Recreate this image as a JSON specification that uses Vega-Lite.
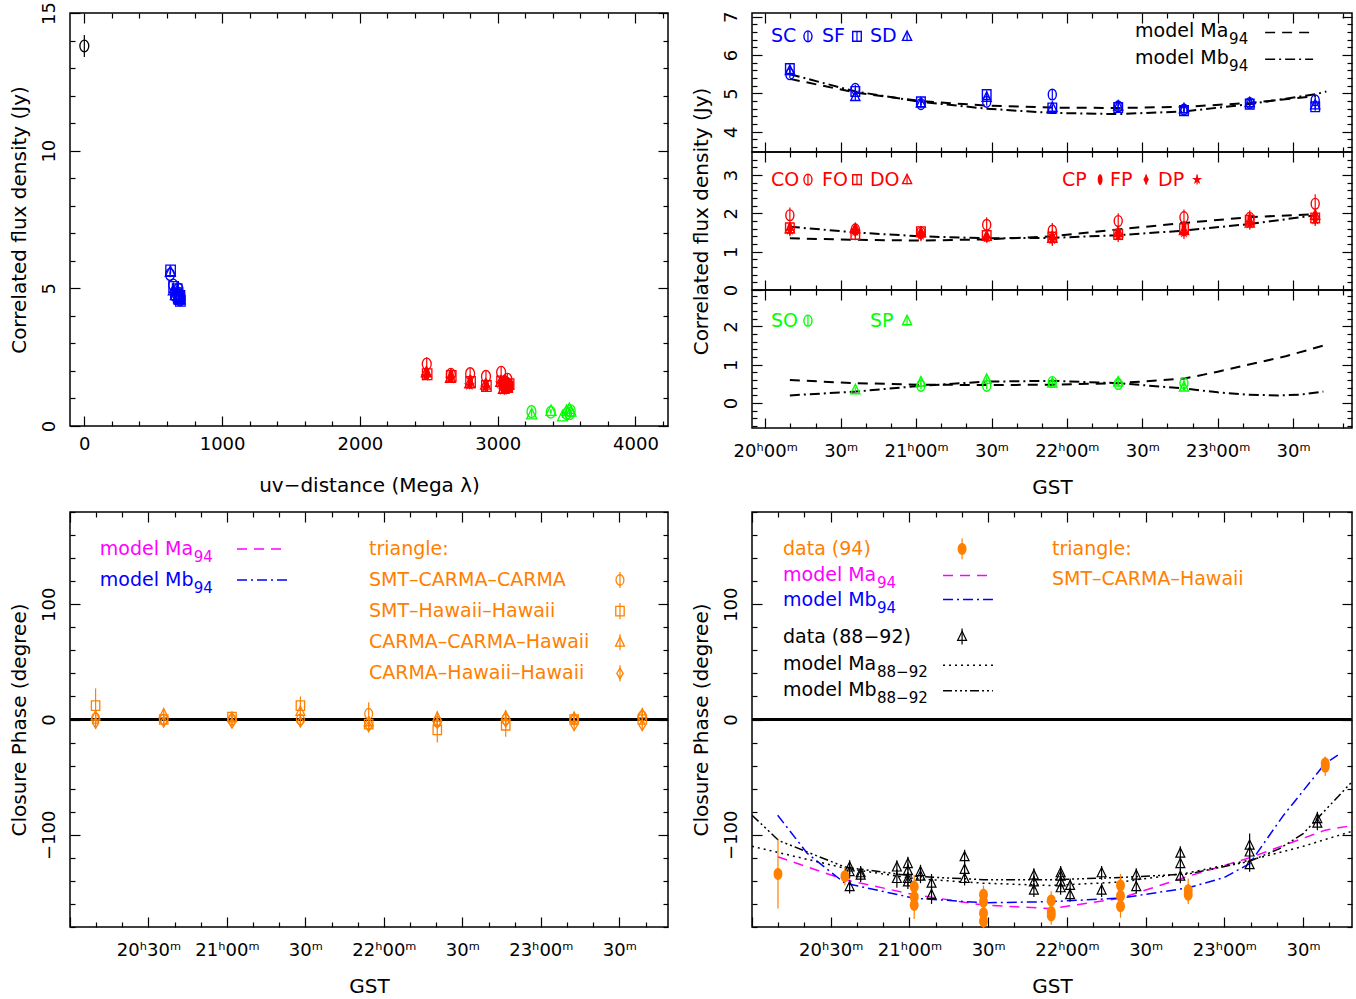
{
"$schema": "https://vega.github.io/schema/vega-lite/v6.json",
"background": "white",
"padding": {"left": 8, "top": 0, "right": 0, "bottom": 0},
"config": {
  "font": "DejaVu Sans",
  "view": {"stroke": "black", "strokeWidth": 1.5},
  "axis": {"domain": false, "grid": false, "tickColor": "black", "tickWidth": 1.2, "labelColor": "black", "titleColor": "black", "titleFontWeight": "normal", "labelFontSize": 18, "titleFontSize": 20, "labelFlush": false, "labelOverlap": false, "labelBound": false, "labelFont": "DejaVu Sans", "titleFont": "DejaVu Sans"},
  "text": {"font": "DejaVu Sans"}
},
"datasets": {
  "flux": [
    {"t":20.163,"u":622,"v":5.5,"e":0.1,"b":"S","k":"o"},
    {"t":20.163,"u":626,"v":5.65,"e":0.1,"b":"S","k":"s"},
    {"t":20.163,"u":624,"v":5.6,"e":0.1,"b":"S","k":"t"},
    {"t":20.597,"u":645,"v":5.12,"e":0.1,"b":"S","k":"o"},
    {"t":20.597,"u":648,"v":5.05,"e":0.1,"b":"S","k":"s"},
    {"t":20.597,"u":646,"v":4.92,"e":0.12,"b":"S","k":"t"},
    {"t":21.032,"u":660,"v":4.72,"e":0.1,"b":"S","k":"o"},
    {"t":21.032,"u":662,"v":4.78,"e":0.08,"b":"S","k":"s"},
    {"t":21.032,"u":661,"v":4.75,"e":0.08,"b":"S","k":"t"},
    {"t":21.468,"u":672,"v":4.78,"e":0.1,"b":"S","k":"o"},
    {"t":21.468,"u":674,"v":4.97,"e":0.1,"b":"S","k":"s"},
    {"t":21.468,"u":673,"v":4.9,"e":0.1,"b":"S","k":"t"},
    {"t":21.903,"u":683,"v":4.97,"e":0.12,"b":"S","k":"o"},
    {"t":21.903,"u":685,"v":4.62,"e":0.08,"b":"S","k":"s"},
    {"t":21.903,"u":684,"v":4.64,"e":0.08,"b":"S","k":"t"},
    {"t":22.34,"u":690,"v":4.66,"e":0.08,"b":"S","k":"o"},
    {"t":22.34,"u":692,"v":4.63,"e":0.08,"b":"S","k":"s"},
    {"t":22.34,"u":691,"v":4.67,"e":0.08,"b":"S","k":"t"},
    {"t":22.776,"u":695,"v":4.58,"e":0.08,"b":"S","k":"o"},
    {"t":22.776,"u":697,"v":4.55,"e":0.08,"b":"S","k":"s"},
    {"t":22.776,"u":696,"v":4.6,"e":0.08,"b":"S","k":"t"},
    {"t":23.212,"u":692,"v":4.75,"e":0.08,"b":"S","k":"o"},
    {"t":23.212,"u":694,"v":4.72,"e":0.1,"b":"S","k":"s"},
    {"t":23.212,"u":693,"v":4.76,"e":0.1,"b":"S","k":"t"},
    {"t":23.646,"u":686,"v":4.82,"e":0.1,"b":"S","k":"o"},
    {"t":23.646,"u":688,"v":4.65,"e":0.1,"b":"S","k":"s"},
    {"t":23.646,"u":687,"v":4.7,"e":0.12,"b":"S","k":"t"},
    {"t":20.163,"u":3025,"v":1.95,"e":0.2,"b":"R","k":"o"},
    {"t":20.163,"u":3028,"v":1.62,"e":0.15,"b":"R","k":"s"},
    {"t":20.163,"u":3022,"v":1.6,"e":0.15,"b":"R","k":"t"},
    {"t":20.163,"u":3026,"v":1.62,"e":0.15,"b":"R","k":"fc"},
    {"t":20.163,"u":3030,"v":1.58,"e":0.15,"b":"R","k":"fd"},
    {"t":20.163,"u":3020,"v":1.55,"e":0.15,"b":"R","k":"fs"},
    {"t":20.597,"u":3060,"v":1.58,"e":0.15,"b":"R","k":"o"},
    {"t":20.597,"u":3063,"v":1.45,"e":0.15,"b":"R","k":"s"},
    {"t":20.597,"u":3057,"v":1.6,"e":0.15,"b":"R","k":"t"},
    {"t":20.597,"u":3061,"v":1.55,"e":0.15,"b":"R","k":"fc"},
    {"t":20.597,"u":3065,"v":1.58,"e":0.15,"b":"R","k":"fd"},
    {"t":20.597,"u":3055,"v":1.52,"e":0.15,"b":"R","k":"fs"},
    {"t":21.032,"u":3080,"v":1.5,"e":0.15,"b":"R","k":"o"},
    {"t":21.032,"u":3083,"v":1.52,"e":0.15,"b":"R","k":"s"},
    {"t":21.032,"u":3077,"v":1.5,"e":0.15,"b":"R","k":"t"},
    {"t":21.032,"u":3081,"v":1.45,"e":0.15,"b":"R","k":"fc"},
    {"t":21.032,"u":3085,"v":1.48,"e":0.15,"b":"R","k":"fd"},
    {"t":21.032,"u":3075,"v":1.42,"e":0.15,"b":"R","k":"fs"},
    {"t":21.468,"u":3070,"v":1.7,"e":0.2,"b":"R","k":"o"},
    {"t":21.468,"u":3073,"v":1.42,"e":0.12,"b":"R","k":"s"},
    {"t":21.468,"u":3067,"v":1.4,"e":0.12,"b":"R","k":"t"},
    {"t":21.468,"u":3071,"v":1.38,"e":0.12,"b":"R","k":"fc"},
    {"t":21.468,"u":3075,"v":1.4,"e":0.12,"b":"R","k":"fd"},
    {"t":21.468,"u":3065,"v":1.35,"e":0.12,"b":"R","k":"fs"},
    {"t":21.903,"u":3045,"v":1.55,"e":0.2,"b":"R","k":"o"},
    {"t":21.903,"u":3048,"v":1.38,"e":0.15,"b":"R","k":"s"},
    {"t":21.903,"u":3042,"v":1.35,"e":0.15,"b":"R","k":"t"},
    {"t":21.903,"u":3046,"v":1.4,"e":0.15,"b":"R","k":"fc"},
    {"t":21.903,"u":3050,"v":1.33,"e":0.15,"b":"R","k":"fd"},
    {"t":21.903,"u":3040,"v":1.3,"e":0.15,"b":"R","k":"fs"},
    {"t":22.34,"u":2915,"v":1.8,"e":0.2,"b":"R","k":"o"},
    {"t":22.34,"u":2918,"v":1.45,"e":0.15,"b":"R","k":"s"},
    {"t":22.34,"u":2912,"v":1.5,"e":0.15,"b":"R","k":"t"},
    {"t":22.34,"u":2916,"v":1.5,"e":0.15,"b":"R","k":"fc"},
    {"t":22.34,"u":2920,"v":1.45,"e":0.15,"b":"R","k":"fd"},
    {"t":22.34,"u":2910,"v":1.4,"e":0.15,"b":"R","k":"fs"},
    {"t":22.776,"u":2800,"v":1.9,"e":0.2,"b":"R","k":"o"},
    {"t":22.776,"u":2803,"v":1.6,"e":0.15,"b":"R","k":"s"},
    {"t":22.776,"u":2797,"v":1.55,"e":0.15,"b":"R","k":"t"},
    {"t":22.776,"u":2801,"v":1.65,"e":0.15,"b":"R","k":"fc"},
    {"t":22.776,"u":2805,"v":1.55,"e":0.15,"b":"R","k":"fd"},
    {"t":22.776,"u":2795,"v":1.48,"e":0.15,"b":"R","k":"fs"},
    {"t":23.212,"u":2660,"v":1.88,"e":0.2,"b":"R","k":"o"},
    {"t":23.212,"u":2663,"v":1.82,"e":0.15,"b":"R","k":"s"},
    {"t":23.212,"u":2657,"v":1.75,"e":0.15,"b":"R","k":"t"},
    {"t":23.212,"u":2661,"v":1.85,"e":0.15,"b":"R","k":"fc"},
    {"t":23.212,"u":2665,"v":1.8,"e":0.15,"b":"R","k":"fd"},
    {"t":23.212,"u":2655,"v":1.72,"e":0.15,"b":"R","k":"fs"},
    {"t":23.646,"u":2485,"v":2.25,"e":0.25,"b":"R","k":"o"},
    {"t":23.646,"u":2488,"v":1.88,"e":0.15,"b":"R","k":"s"},
    {"t":23.646,"u":2482,"v":1.95,"e":0.15,"b":"R","k":"t"},
    {"t":23.646,"u":2486,"v":1.92,"e":0.15,"b":"R","k":"fc"},
    {"t":23.646,"u":2490,"v":1.85,"e":0.15,"b":"R","k":"fd"},
    {"t":23.646,"u":2480,"v":1.82,"e":0.15,"b":"R","k":"fs"},
    {"t":20.597,"u":3470,"v":0.35,"e":0.06,"b":"G","k":"t"},
    {"t":21.032,"u":3500,"v":0.55,"e":0.08,"b":"G","k":"t"},
    {"t":21.032,"u":3502,"v":0.45,"e":0.08,"b":"G","k":"o"},
    {"t":21.468,"u":3520,"v":0.62,"e":0.08,"b":"G","k":"t"},
    {"t":21.468,"u":3522,"v":0.45,"e":0.08,"b":"G","k":"o"},
    {"t":21.903,"u":3530,"v":0.55,"e":0.07,"b":"G","k":"o"},
    {"t":21.903,"u":3532,"v":0.52,"e":0.07,"b":"G","k":"t"},
    {"t":22.34,"u":3385,"v":0.5,"e":0.07,"b":"G","k":"o"},
    {"t":22.34,"u":3387,"v":0.55,"e":0.07,"b":"G","k":"t"},
    {"t":22.776,"u":3245,"v":0.52,"e":0.08,"b":"G","k":"o"},
    {"t":22.776,"u":3247,"v":0.42,"e":0.08,"b":"G","k":"t"},
    {"t":null,"u":0,"v":13.8,"e":0.4,"b":"Z","k":"o"}
  ],
  "fmod": [
    {"t":20.163,"v":5.38,"b":"K","p":"S","m":"Ma"},{"t":20.6,"v":5.02,"b":"K","p":"S","m":"Ma"},{"t":21.03,"v":4.8,"b":"K","p":"S","m":"Ma"},{"t":21.47,"v":4.68,"b":"K","p":"S","m":"Ma"},{"t":21.9,"v":4.63,"b":"K","p":"S","m":"Ma"},{"t":22.34,"v":4.62,"b":"K","p":"S","m":"Ma"},{"t":22.78,"v":4.65,"b":"K","p":"S","m":"Ma"},{"t":23.21,"v":4.75,"b":"K","p":"S","m":"Ma"},{"t":23.65,"v":4.93,"b":"K","p":"S","m":"Ma"},
    {"t":20.163,"v":5.5,"b":"K","p":"S","m":"Mb"},{"t":20.6,"v":5.05,"b":"K","p":"S","m":"Mb"},{"t":21.03,"v":4.78,"b":"K","p":"S","m":"Mb"},{"t":21.47,"v":4.6,"b":"K","p":"S","m":"Mb"},{"t":21.9,"v":4.49,"b":"K","p":"S","m":"Mb"},{"t":22.34,"v":4.46,"b":"K","p":"S","m":"Mb"},{"t":22.78,"v":4.53,"b":"K","p":"S","m":"Mb"},{"t":23.21,"v":4.72,"b":"K","p":"S","m":"Mb"},{"t":23.65,"v":4.98,"b":"K","p":"S","m":"Mb"},{"t":23.72,"v":5.05,"b":"K","p":"S","m":"Mb"},
    {"t":20.163,"v":1.35,"b":"K","p":"R","m":"Ma"},{"t":20.6,"v":1.31,"b":"K","p":"R","m":"Ma"},{"t":21.03,"v":1.29,"b":"K","p":"R","m":"Ma"},{"t":21.47,"v":1.32,"b":"K","p":"R","m":"Ma"},{"t":21.9,"v":1.4,"b":"K","p":"R","m":"Ma"},{"t":22.34,"v":1.58,"b":"K","p":"R","m":"Ma"},{"t":22.78,"v":1.75,"b":"K","p":"R","m":"Ma"},{"t":23.21,"v":1.9,"b":"K","p":"R","m":"Ma"},{"t":23.65,"v":1.98,"b":"K","p":"R","m":"Ma"},
    {"t":20.163,"v":1.65,"b":"K","p":"R","m":"Mb"},{"t":20.6,"v":1.5,"b":"K","p":"R","m":"Mb"},{"t":21.03,"v":1.4,"b":"K","p":"R","m":"Mb"},{"t":21.47,"v":1.35,"b":"K","p":"R","m":"Mb"},{"t":21.9,"v":1.36,"b":"K","p":"R","m":"Mb"},{"t":22.34,"v":1.43,"b":"K","p":"R","m":"Mb"},{"t":22.78,"v":1.55,"b":"K","p":"R","m":"Mb"},{"t":23.21,"v":1.72,"b":"K","p":"R","m":"Mb"},{"t":23.65,"v":1.95,"b":"K","p":"R","m":"Mb"},
    {"t":20.163,"v":0.6,"b":"K","p":"G","m":"Ma"},{"t":20.6,"v":0.52,"b":"K","p":"G","m":"Ma"},{"t":21.03,"v":0.48,"b":"K","p":"G","m":"Ma"},{"t":21.47,"v":0.47,"b":"K","p":"G","m":"Ma"},{"t":21.9,"v":0.48,"b":"K","p":"G","m":"Ma"},{"t":22.34,"v":0.52,"b":"K","p":"G","m":"Ma"},{"t":22.78,"v":0.64,"b":"K","p":"G","m":"Ma"},{"t":23.0,"v":0.82,"b":"K","p":"G","m":"Ma"},{"t":23.2,"v":1.0,"b":"K","p":"G","m":"Ma"},{"t":23.45,"v":1.22,"b":"K","p":"G","m":"Ma"},{"t":23.7,"v":1.5,"b":"K","p":"G","m":"Ma"},
    {"t":20.163,"v":0.2,"b":"K","p":"G","m":"Mb"},{"t":20.6,"v":0.3,"b":"K","p":"G","m":"Mb"},{"t":21.03,"v":0.45,"b":"K","p":"G","m":"Mb"},{"t":21.47,"v":0.56,"b":"K","p":"G","m":"Mb"},{"t":21.9,"v":0.58,"b":"K","p":"G","m":"Mb"},{"t":22.34,"v":0.52,"b":"K","p":"G","m":"Mb"},{"t":22.78,"v":0.38,"b":"K","p":"G","m":"Mb"},{"t":23.0,"v":0.28,"b":"K","p":"G","m":"Mb"},{"t":23.2,"v":0.22,"b":"K","p":"G","m":"Mb"},{"t":23.4,"v":0.2,"b":"K","p":"G","m":"Mb"},{"t":23.55,"v":0.22,"b":"K","p":"G","m":"Mb"},{"t":23.7,"v":0.3,"b":"K","p":"G","m":"Mb"}
  ],
  "cpl": [
    {"t":20.163,"v":12,"e":15,"b":"O","k":"s"},{"t":20.163,"v":1,"e":5,"b":"O","k":"o"},{"t":20.163,"v":3,"e":5,"b":"O","k":"t"},{"t":20.163,"v":-3,"e":5,"b":"O","k":"d"},
    {"t":20.597,"v":0,"e":4,"b":"O","k":"o"},{"t":20.597,"v":0,"e":4,"b":"O","k":"s"},{"t":20.597,"v":5,"e":4,"b":"O","k":"t"},{"t":20.597,"v":-2,"e":4,"b":"O","k":"d"},
    {"t":21.032,"v":0,"e":4,"b":"O","k":"o"},{"t":21.032,"v":2,"e":4,"b":"O","k":"s"},{"t":21.032,"v":2,"e":4,"b":"O","k":"t"},{"t":21.032,"v":-3,"e":4,"b":"O","k":"d"},
    {"t":21.468,"v":0,"e":5,"b":"O","k":"o"},{"t":21.468,"v":12,"e":8,"b":"O","k":"s"},{"t":21.468,"v":7,"e":6,"b":"O","k":"t"},{"t":21.468,"v":-2,"e":4,"b":"O","k":"d"},
    {"t":21.903,"v":5,"e":10,"b":"O","k":"o"},{"t":21.903,"v":-4,"e":5,"b":"O","k":"s"},{"t":21.903,"v":-2,"e":5,"b":"O","k":"t"},{"t":21.903,"v":-6,"e":4,"b":"O","k":"d"},
    {"t":22.34,"v":-2,"e":5,"b":"O","k":"o"},{"t":22.34,"v":-9,"e":11,"b":"O","k":"s"},{"t":22.34,"v":2,"e":5,"b":"O","k":"t"},{"t":22.34,"v":-3,"e":4,"b":"O","k":"d"},
    {"t":22.776,"v":0,"e":4,"b":"O","k":"o"},{"t":22.776,"v":-5,"e":10,"b":"O","k":"s"},{"t":22.776,"v":3,"e":4,"b":"O","k":"t"},{"t":22.776,"v":-2,"e":4,"b":"O","k":"d"},
    {"t":23.212,"v":0,"e":4,"b":"O","k":"o"},{"t":23.212,"v":0,"e":4,"b":"O","k":"s"},{"t":23.212,"v":2,"e":4,"b":"O","k":"t"},{"t":23.212,"v":-5,"e":5,"b":"O","k":"d"},
    {"t":23.646,"v":3,"e":4,"b":"O","k":"o"},{"t":23.646,"v":0,"e":4,"b":"O","k":"s"},{"t":23.646,"v":5,"e":4,"b":"O","k":"t"},{"t":23.646,"v":-5,"e":5,"b":"O","k":"d"}
  ],
  "cpr": [
    {"t":20.165,"v":-134,"e":30,"b":"O","k":"fo"},
    {"t":20.59,"v":-136,"e":8,"b":"O","k":"fo"},
    {"t":21.03,"v":-145,"e":10,"b":"O","k":"fo"},{"t":21.03,"v":-154,"e":10,"b":"O","k":"fo"},{"t":21.03,"v":-161,"e":12,"b":"O","k":"fo"},
    {"t":21.47,"v":-152,"e":8,"b":"O","k":"fo"},{"t":21.47,"v":-158,"e":8,"b":"O","k":"fo"},{"t":21.47,"v":-168,"e":8,"b":"O","k":"fo"},{"t":21.47,"v":-175,"e":6,"b":"O","k":"fo"},
    {"t":21.9,"v":-157,"e":8,"b":"O","k":"fo"},{"t":21.9,"v":-167,"e":8,"b":"O","k":"fo"},{"t":21.9,"v":-170,"e":8,"b":"O","k":"fo"},
    {"t":22.34,"v":-144,"e":10,"b":"O","k":"fo"},{"t":22.34,"v":-153,"e":10,"b":"O","k":"fo"},{"t":22.34,"v":-162,"e":10,"b":"O","k":"fo"},
    {"t":22.77,"v":-148,"e":10,"b":"O","k":"fo"},{"t":22.77,"v":-152,"e":8,"b":"O","k":"fo"},
    {"t":23.64,"v":-41,"e":8,"b":"O","k":"fo"},{"t":23.64,"v":-38,"e":6,"b":"O","k":"fo"},
    {"t":20.62,"v":-128,"e":6,"b":"K","k":"t"},{"t":20.62,"v":-132,"e":6,"b":"K","k":"t"},{"t":20.62,"v":-145,"e":6,"b":"K","k":"t"},
    {"t":20.69,"v":-133,"e":6,"b":"K","k":"t"},{"t":20.69,"v":-135,"e":6,"b":"K","k":"t"},
    {"t":20.92,"v":-128,"e":6,"b":"K","k":"t"},{"t":20.92,"v":-138,"e":8,"b":"K","k":"t"},
    {"t":20.99,"v":-125,"e":6,"b":"K","k":"t"},{"t":20.99,"v":-131,"e":6,"b":"K","k":"t"},{"t":20.99,"v":-138,"e":6,"b":"K","k":"t"},{"t":20.99,"v":-141,"e":6,"b":"K","k":"t"},
    {"t":21.07,"v":-132,"e":6,"b":"K","k":"t"},{"t":21.07,"v":-136,"e":6,"b":"K","k":"t"},
    {"t":21.14,"v":-142,"e":8,"b":"K","k":"t"},{"t":21.14,"v":-152,"e":8,"b":"K","k":"t"},
    {"t":21.35,"v":-119,"e":6,"b":"K","k":"t"},{"t":21.35,"v":-130,"e":6,"b":"K","k":"t"},{"t":21.35,"v":-138,"e":6,"b":"K","k":"t"},
    {"t":21.79,"v":-135,"e":6,"b":"K","k":"t"},{"t":21.79,"v":-141,"e":6,"b":"K","k":"t"},{"t":21.79,"v":-148,"e":6,"b":"K","k":"t"},
    {"t":21.96,"v":-133,"e":6,"b":"K","k":"t"},{"t":21.96,"v":-136,"e":6,"b":"K","k":"t"},{"t":21.96,"v":-141,"e":6,"b":"K","k":"t"},{"t":21.96,"v":-146,"e":6,"b":"K","k":"t"},
    {"t":22.02,"v":-144,"e":6,"b":"K","k":"t"},{"t":22.02,"v":-152,"e":6,"b":"K","k":"t"},
    {"t":22.22,"v":-133,"e":6,"b":"K","k":"t"},{"t":22.22,"v":-148,"e":6,"b":"K","k":"t"},
    {"t":22.44,"v":-135,"e":6,"b":"K","k":"t"},{"t":22.44,"v":-145,"e":6,"b":"K","k":"t"},
    {"t":22.72,"v":-116,"e":6,"b":"K","k":"t"},{"t":22.72,"v":-125,"e":6,"b":"K","k":"t"},{"t":22.72,"v":-136,"e":6,"b":"K","k":"t"},
    {"t":23.16,"v":-109,"e":10,"b":"K","k":"t"},{"t":23.16,"v":-115,"e":6,"b":"K","k":"t"},{"t":23.16,"v":-126,"e":6,"b":"K","k":"t"},
    {"t":23.59,"v":-86,"e":6,"b":"K","k":"t"},{"t":23.59,"v":-90,"e":6,"b":"K","k":"t"}
  ],
  "cpm": [
    {"p":"BL","t":20.163,"v":0,"b":"Ma","m":"Ma"},{"p":"BL","t":23.646,"v":0,"b":"Ma","m":"Ma"},
    {"p":"BL","t":20.163,"v":0,"b":"Mb","m":"Mb"},{"p":"BL","t":23.646,"v":0,"b":"Mb","m":"Mb"},
    {"p":"BR","t":20.163,"v":-119,"b":"Ma","m":"Ma"},{"p":"BR","t":20.59,"v":-139,"b":"Ma","m":"Ma"},{"p":"BR","t":21.03,"v":-152,"b":"Ma","m":"Ma"},{"p":"BR","t":21.47,"v":-161,"b":"Ma","m":"Ma"},{"p":"BR","t":21.9,"v":-164,"b":"Ma","m":"Ma"},{"p":"BR","t":22.34,"v":-155,"b":"Ma","m":"Ma"},{"p":"BR","t":22.77,"v":-136,"b":"Ma","m":"Ma"},{"p":"BR","t":23.16,"v":-120,"b":"Ma","m":"Ma"},{"p":"BR","t":23.4,"v":-108,"b":"Ma","m":"Ma"},{"p":"BR","t":23.64,"v":-96,"b":"Ma","m":"Ma"},{"p":"BR","t":23.81,"v":-92,"b":"Ma","m":"Ma"},
    {"p":"BR","t":20.163,"v":-83,"b":"Mb","m":"Mb"},{"p":"BR","t":20.35,"v":-116,"b":"Mb","m":"Mb"},{"p":"BR","t":20.59,"v":-142,"b":"Mb","m":"Mb"},{"p":"BR","t":21.03,"v":-155,"b":"Mb","m":"Mb"},{"p":"BR","t":21.47,"v":-159,"b":"Mb","m":"Mb"},{"p":"BR","t":21.9,"v":-158,"b":"Mb","m":"Mb"},{"p":"BR","t":22.34,"v":-155,"b":"Mb","m":"Mb"},{"p":"BR","t":22.77,"v":-146,"b":"Mb","m":"Mb"},{"p":"BR","t":23.0,"v":-137,"b":"Mb","m":"Mb"},{"p":"BR","t":23.16,"v":-125,"b":"Mb","m":"Mb"},{"p":"BR","t":23.37,"v":-84,"b":"Mb","m":"Mb"},{"p":"BR","t":23.64,"v":-38,"b":"Mb","m":"Mb"},{"p":"BR","t":23.72,"v":-31,"b":"Mb","m":"Mb"},
    {"p":"BR","t":20.0,"v":-110,"b":"K","m":"Ma88"},{"p":"BR","t":20.59,"v":-129,"b":"K","m":"Ma88"},{"p":"BR","t":21.03,"v":-138,"b":"K","m":"Ma88"},{"p":"BR","t":21.47,"v":-142,"b":"K","m":"Ma88"},{"p":"BR","t":21.9,"v":-144,"b":"K","m":"Ma88"},{"p":"BR","t":22.34,"v":-141,"b":"K","m":"Ma88"},{"p":"BR","t":22.77,"v":-133,"b":"K","m":"Ma88"},{"p":"BR","t":23.16,"v":-122,"b":"K","m":"Ma88"},{"p":"BR","t":23.5,"v":-110,"b":"K","m":"Ma88"},{"p":"BR","t":23.81,"v":-97,"b":"K","m":"Ma88"},
    {"p":"BR","t":20.0,"v":-83,"b":"K","m":"Mb88"},{"p":"BR","t":20.17,"v":-105,"b":"K","m":"Mb88"},{"p":"BR","t":20.59,"v":-128,"b":"K","m":"Mb88"},{"p":"BR","t":21.03,"v":-136,"b":"K","m":"Mb88"},{"p":"BR","t":21.47,"v":-139,"b":"K","m":"Mb88"},{"p":"BR","t":21.9,"v":-139,"b":"K","m":"Mb88"},{"p":"BR","t":22.34,"v":-137,"b":"K","m":"Mb88"},{"p":"BR","t":22.77,"v":-134,"b":"K","m":"Mb88"},{"p":"BR","t":23.16,"v":-123,"b":"K","m":"Mb88"},{"p":"BR","t":23.35,"v":-112,"b":"K","m":"Mb88"},{"p":"BR","t":23.5,"v":-99,"b":"K","m":"Mb88"},{"p":"BR","t":23.81,"v":-54,"b":"K","m":"Mb88"}
  ],
  "ltx": [
    {"p":"S","t":20.038,"v":6.49,"txt":"SC","b":"S"},
    {"p":"S","t":20.376,"v":6.49,"txt":"SF","b":"S"},
    {"p":"S","t":20.694,"v":6.49,"txt":"SD","b":"S"},
    {"p":"S","t":22.452,"v":6.63,"txt":"model Ma","b":"K"},
    {"p":"S","t":22.452,"v":5.93,"txt":"model Mb","b":"K"},
    {"p":"R","t":20.038,"v":2.88,"txt":"CO","b":"R"},
    {"p":"R","t":20.376,"v":2.88,"txt":"FO","b":"R"},
    {"p":"R","t":20.694,"v":2.88,"txt":"DO","b":"R"},
    {"p":"R","t":21.968,"v":2.88,"txt":"CP","b":"R"},
    {"p":"R","t":22.286,"v":2.88,"txt":"FP","b":"R"},
    {"p":"R","t":22.604,"v":2.88,"txt":"DP","b":"R"},
    {"p":"G","t":20.038,"v":2.15,"txt":"SO","b":"G"},
    {"p":"G","t":20.694,"v":2.15,"txt":"SP","b":"G"},
    {"p":"BL","t":20.19,"v":148,"txt":"model Ma","b":"Ma"},
    {"p":"BL","t":20.19,"v":121,"txt":"model Mb","b":"Mb"},
    {"p":"BL","t":21.905,"v":148,"txt":"triangle:","b":"O"},
    {"p":"BL","t":21.905,"v":121,"txt":"SMT–CARMA–CARMA","b":"O"},
    {"p":"BL","t":21.905,"v":94,"txt":"SMT–Hawaii–Hawaii","b":"O"},
    {"p":"BL","t":21.905,"v":67,"txt":"CARMA–CARMA–Hawaii","b":"O"},
    {"p":"BL","t":21.905,"v":40,"txt":"CARMA–Hawaii–Hawaii","b":"O"},
    {"p":"BR","t":20.197,"v":148,"txt":"data (94)","b":"O"},
    {"p":"BR","t":20.197,"v":125,"txt":"model Ma","b":"Ma"},
    {"p":"BR","t":20.197,"v":104,"txt":"model Mb","b":"Mb"},
    {"p":"BR","t":20.197,"v":72,"txt":"data (88−92)","b":"K"},
    {"p":"BR","t":20.197,"v":48,"txt":"model Ma","b":"K"},
    {"p":"BR","t":20.197,"v":26,"txt":"model Mb","b":"K"},
    {"p":"BR","t":21.905,"v":148,"txt":"triangle:","b":"O"},
    {"p":"BR","t":21.905,"v":122,"txt":"SMT–CARMA–Hawaii","b":"O"}
  ],
  "lsub": [
    {"p":"S","t":22.452,"v":6.63,"txt":"94","b":"K"},
    {"p":"S","t":22.452,"v":5.93,"txt":"94","b":"K"},
    {"p":"BL","t":20.19,"v":148,"txt":"94","b":"Ma"},
    {"p":"BL","t":20.19,"v":121,"txt":"94","b":"Mb"},
    {"p":"BR","t":20.197,"v":125,"txt":"94","b":"Ma"},
    {"p":"BR","t":20.197,"v":104,"txt":"94","b":"Mb"},
    {"p":"BR","t":20.197,"v":48,"txt":"88−92","b":"K"},
    {"p":"BR","t":20.197,"v":26,"txt":"88−92","b":"K"}
  ],
  "lmk": [
    {"p":"S","t":20.283,"v":6.49,"e":0.13,"b":"S","k":"o"},
    {"p":"S","t":20.608,"v":6.49,"e":0.13,"b":"S","k":"s"},
    {"p":"S","t":20.94,"v":6.49,"e":0.13,"b":"S","k":"t"},
    {"p":"R","t":20.283,"v":2.88,"e":0.13,"b":"R","k":"o"},
    {"p":"R","t":20.608,"v":2.88,"e":0.13,"b":"R","k":"s"},
    {"p":"R","t":20.94,"v":2.88,"e":0.13,"b":"R","k":"t"},
    {"p":"R","t":22.22,"v":2.88,"e":0.13,"b":"R","k":"fc"},
    {"p":"R","t":22.525,"v":2.88,"e":0.13,"b":"R","k":"fd"},
    {"p":"R","t":22.863,"v":2.88,"e":0.13,"b":"R","k":"fs"},
    {"p":"G","t":20.283,"v":2.15,"e":0.13,"b":"G","k":"o"},
    {"p":"G","t":20.94,"v":2.15,"e":0.13,"b":"G","k":"t"},
    {"p":"BL","t":23.504,"v":121,"e":7,"b":"O","k":"o"},
    {"p":"BL","t":23.504,"v":94,"e":7,"b":"O","k":"s"},
    {"p":"BL","t":23.504,"v":67,"e":7,"b":"O","k":"t"},
    {"p":"BL","t":23.504,"v":40,"e":7,"b":"O","k":"d"},
    {"p":"BR","t":21.334,"v":148,"e":9,"b":"O","k":"fo"},
    {"p":"BR","t":21.334,"v":72,"e":7,"b":"K","k":"t"}
  ],
  "lln": [
    {"p":"S","t":23.314,"v":6.59,"b":"K","m":"Ma"},{"p":"S","t":23.632,"v":6.59,"b":"K","m":"Ma"},
    {"p":"S","t":23.314,"v":5.89,"b":"K","m":"Mb"},{"p":"S","t":23.632,"v":5.89,"b":"K","m":"Mb"},
    {"p":"BL","t":21.064,"v":148,"b":"Ma","m":"Ma"},{"p":"BL","t":21.383,"v":148,"b":"Ma","m":"Ma"},
    {"p":"BL","t":21.064,"v":121,"b":"Mb","m":"Mb"},{"p":"BL","t":21.383,"v":121,"b":"Mb","m":"Mb"},
    {"p":"BR","t":21.213,"v":125,"b":"Ma","m":"Ma"},{"p":"BR","t":21.53,"v":125,"b":"Ma","m":"Ma"},
    {"p":"BR","t":21.213,"v":104,"b":"Mb","m":"Mb"},{"p":"BR","t":21.53,"v":104,"b":"Mb","m":"Mb"},
    {"p":"BR","t":21.213,"v":47,"b":"K","m":"Ma88"},{"p":"BR","t":21.53,"v":47,"b":"K","m":"Ma88"},
    {"p":"BR","t":21.213,"v":25,"b":"K","m":"Mb88"},{"p":"BR","t":21.53,"v":25,"b":"K","m":"Mb88"}
  ]
},
"vconcat": [
 {"hconcat": [
  {
   "width": 598, "height": 413,
   "layer": [
    {
     "encoding": {
      "x": {"field":"u","type":"quantitative","scale":{"domain":[-104,4236],"nice":false,"zero":false},
            "axis":{"orient":"bottom","title":"uv−distance (Mega λ)","values":[0,200,400,600,800,1000,1200,1400,1600,1800,2000,2200,2400,2600,2800,3000,3200,3400,3600,3800,4000,4200],"format":"d","tickSize":{"condition":{"test":"datum.value % 1000 === 0","value":-10},"value":-5},"labelExpr":"datum.value % 1000 === 0 ? datum.label : ''","labelPadding":19.8,"minExtent":32,"maxExtent":32,"titlePadding":17}},
      "y": {"field":"v","type":"quantitative","scale":{"domain":[0,15],"nice":false,"zero":false},
            "axis":{"orient":"left","title":"Correlated flux density (Jy)","values":[0,1,2,3,4,5,6,7,8,9,10,11,12,13,14,15],"format":"d","tickSize":{"condition":{"test":"datum.value % 5 === 0","value":-10},"value":-5},"labelExpr":"datum.value % 5 === 0 ? datum.label : ''","labelAngle":-90,"labelAlign":"center","labelBaseline":"bottom","labelPadding":21.5,"minExtent":28,"maxExtent":28,"titlePadding":13}},
      "color": {"field":"b","type":"nominal","legend":null,"scale":{"domain":["Z","S","R","G","K","O","Ma","Mb"],"range":["black","blue","red","#00ff00","black","#ff8000","magenta","blue"]}}
     },
     "layer": [
      {"data":{"name":"flux"},"mark":{"type":"errorbar","thickness":1.2},"encoding":{"yError":{"field":"e"}}},
      {"data":{"name":"flux"},"transform":[{"filter":"indexof(['fc','fd','fs'], datum.k) < 0"}],"mark":{"type":"point","filled":false,"size":140,"strokeWidth":1.3,"opacity":1},"encoding":{"shape":{"field":"k","type":"nominal","legend":null,"scale":{"domain":["o","s","t","d","fc","fd","fs","fo"],"range":["M0,-1A0.75,1,0,1,1,0,1A0.75,1,0,1,1,0,-1Z","M-0.8,-0.9H0.8V0.9H-0.8Z","M0,-1L0.85,0.75L-0.85,0.75Z","M0,-1L0.6,0L0,1L-0.6,0Z","M0,-1A0.45,1,0,1,1,0,1A0.45,1,0,1,1,0,-1Z","M0,-1L0.5,0L0,1L-0.5,0Z","M0,-1L0.22,-0.3L0.95,-0.3L0.36,0.12L0.59,0.81L0,0.38L-0.59,0.81L-0.36,0.12L-0.95,-0.3L-0.22,-0.3Z","M0,-1A0.75,1,0,1,1,0,1A0.75,1,0,1,1,0,-1Z"]}}}},
      {"data":{"name":"flux"},"transform":[{"filter":"indexof(['fc','fd','fs'], datum.k) >= 0"}],"mark":{"type":"point","filled":true,"size":140,"opacity":1},"encoding":{"shape":{"field":"k","type":"nominal","legend":null,"scale":{"domain":["o","s","t","d","fc","fd","fs","fo"],"range":["M0,-1A0.75,1,0,1,1,0,1A0.75,1,0,1,1,0,-1Z","M-0.8,-0.9H0.8V0.9H-0.8Z","M0,-1L0.85,0.75L-0.85,0.75Z","M0,-1L0.6,0L0,1L-0.6,0Z","M0,-1A0.45,1,0,1,1,0,1A0.45,1,0,1,1,0,-1Z","M0,-1L0.5,0L0,1L-0.5,0Z","M0,-1L0.22,-0.3L0.95,-0.3L0.36,0.12L0.59,0.81L0,0.38L-0.59,0.81L-0.36,0.12L-0.95,-0.3L-0.22,-0.3Z","M0,-1A0.75,1,0,1,1,0,1A0.75,1,0,1,1,0,-1Z"]}}}}
     ]
    },
    {"data":{"name":"flux"},"mark":{"type":"point","opacity":0},
     "encoding":{
      "x":{"field":"u","type":"quantitative","scale":{"domain":[-104,4236],"nice":false,"zero":false},"axis":{"orient":"top","labels":false,"title":null,"values":[0,200,400,600,800,1000,1200,1400,1600,1800,2000,2200,2400,2600,2800,3000,3200,3400,3600,3800,4000,4200],"tickSize":{"condition":{"test":"datum.value % 1000 === 0","value":-10},"value":-5},"minExtent":0,"maxExtent":0}},
      "y":{"field":"v","type":"quantitative","scale":{"domain":[0,15],"nice":false,"zero":false},"axis":{"orient":"right","labels":false,"title":null,"values":[0,1,2,3,4,5,6,7,8,9,10,11,12,13,14,15],"tickSize":{"condition":{"test":"datum.value % 5 === 0","value":-10},"value":-5},"minExtent":0,"maxExtent":0}}
     }}
   ],
   "resolve":{"axis":{"x":"independent","y":"independent"}}
  },
  {"vconcat": [
   {
    "width": 600, "height": 139,
    "layer": [
     {
      "encoding": {
       "x": {"field":"t","type":"quantitative","scale":{"domain":[19.912,23.89],"nice":false,"zero":false},
             "axis":{"orient":"bottom","labels":false,"title":null,"values":[20,20.1667,20.3333,20.5,20.6667,20.8333,21,21.1667,21.3333,21.5,21.6667,21.8333,22,22.1667,22.3333,22.5,22.6667,22.8333,23,23.1667,23.3333,23.5,23.6667,23.8333],"tickSize":{"condition":{"test":"abs(datum.value*2-round(datum.value*2))<0.01","value":-10},"value":-5},"minExtent":0,"maxExtent":0}},
       "y": {"field":"v","type":"quantitative","scale":{"domain":[3.47,7.1],"nice":false,"zero":false},
             "axis":{"orient":"left","title":null,"values":[3.6,3.8,4,4.2,4.4,4.6,4.8,5,5.2,5.4,5.6,5.8,6,6.2,6.4,6.6,6.8,7],"tickSize":{"condition":{"test":"abs(datum.value-round(datum.value))<0.01","value":-10},"value":-5},"labelExpr":"abs(datum.value-round(datum.value))<0.01 ? format(datum.value,'d') : ''","labelAngle":-90,"labelAlign":"center","labelBaseline":"bottom","labelPadding":21.5,"minExtent":28,"maxExtent":28,"titlePadding":13}},
       "color": {"field":"b","type":"nominal","legend":null,"scale":{"domain":["Z","S","R","G","K","O","Ma","Mb"],"range":["black","blue","red","#00ff00","black","#ff8000","magenta","blue"]}}
      },
      "layer": [
       {"data":{"name":"fmod"},"transform":[{"filter":"datum.p === 'S'"}],"mark":{"type":"line","strokeWidth":2,"clip":true},"encoding":{"strokeDash":{"field":"m","type":"nominal","legend":null,"scale":{"domain":["Ma","Mb","Ma88","Mb88"],"range":[[10,7],[10,4,2,4],[2,4],[9,3,2,3,2,3,2,3]]}}}},
       {"data":{"name":"lln"},"transform":[{"filter":"datum.p === 'S'"}],"mark":{"type":"line","strokeWidth":1.5},"encoding":{"strokeDash":{"field":"m","type":"nominal","legend":null,"scale":{"domain":["Ma","Mb","Ma88","Mb88"],"range":[[10,7],[10,4,2,4],[2,4],[9,3,2,3,2,3,2,3]]}}}},
       {"data":{"name":"flux"},"transform":[{"filter":"datum.b === 'S'"}],"mark":{"type":"errorbar","thickness":1.2},"encoding":{"yError":{"field":"e"}}},
       {"data":{"name":"lmk"},"transform":[{"filter":"datum.p === 'S'"}],"mark":{"type":"errorbar","thickness":1.2},"encoding":{"yError":{"field":"e"}}},
       {"data":{"name":"flux"},"transform":[{"filter":"datum.b === 'S'"}],"mark":{"type":"point","filled":false,"size":115,"strokeWidth":1.4,"opacity":1},"encoding":{"shape":{"field":"k","type":"nominal","legend":null,"scale":{"domain":["o","s","t","d","fc","fd","fs","fo"],"range":["M0,-1A0.75,1,0,1,1,0,1A0.75,1,0,1,1,0,-1Z","M-0.8,-0.9H0.8V0.9H-0.8Z","M0,-1L0.85,0.75L-0.85,0.75Z","M0,-1L0.6,0L0,1L-0.6,0Z","M0,-1A0.45,1,0,1,1,0,1A0.45,1,0,1,1,0,-1Z","M0,-1L0.5,0L0,1L-0.5,0Z","M0,-1L0.22,-0.3L0.95,-0.3L0.36,0.12L0.59,0.81L0,0.38L-0.59,0.81L-0.36,0.12L-0.95,-0.3L-0.22,-0.3Z","M0,-1A0.75,1,0,1,1,0,1A0.75,1,0,1,1,0,-1Z"]}}}},
       {"data":{"name":"lmk"},"transform":[{"filter":"datum.p === 'S'"}],"mark":{"type":"point","filled":false,"size":115,"strokeWidth":1.4,"opacity":1},"encoding":{"shape":{"field":"k","type":"nominal","legend":null,"scale":{"domain":["o","s","t","d","fc","fd","fs","fo"],"range":["M0,-1A0.75,1,0,1,1,0,1A0.75,1,0,1,1,0,-1Z","M-0.8,-0.9H0.8V0.9H-0.8Z","M0,-1L0.85,0.75L-0.85,0.75Z","M0,-1L0.6,0L0,1L-0.6,0Z","M0,-1A0.45,1,0,1,1,0,1A0.45,1,0,1,1,0,-1Z","M0,-1L0.5,0L0,1L-0.5,0Z","M0,-1L0.22,-0.3L0.95,-0.3L0.36,0.12L0.59,0.81L0,0.38L-0.59,0.81L-0.36,0.12L-0.95,-0.3L-0.22,-0.3Z","M0,-1A0.75,1,0,1,1,0,1A0.75,1,0,1,1,0,-1Z"]}}}},
       {"data":{"name":"ltx"},"transform":[{"filter":"datum.p === 'S'"}],"mark":{"type":"text","align":"left","baseline":"middle","fontSize":19},"encoding":{"text":{"field":"txt"}}},
       {"data":{"name":"lsub"},"transform":[{"filter":"datum.p === 'S'"}],"mark":{"type":"text","align":"left","baseline":"middle","fontSize":15,"dx":94,"dy":8},"encoding":{"text":{"field":"txt"}}}
      ]
     },
     {"data":{"name":"flux"},"transform":[{"filter":"datum.b === 'S'"}],"mark":{"type":"point","opacity":0},
      "encoding":{
       "x":{"field":"t","type":"quantitative","scale":{"domain":[19.912,23.89],"nice":false,"zero":false},"axis":{"orient":"top","labels":false,"title":null,"values":[20,20.1667,20.3333,20.5,20.6667,20.8333,21,21.1667,21.3333,21.5,21.6667,21.8333,22,22.1667,22.3333,22.5,22.6667,22.8333,23,23.1667,23.3333,23.5,23.6667,23.8333],"tickSize":{"condition":{"test":"abs(datum.value*2-round(datum.value*2))<0.01","value":-10},"value":-5},"minExtent":0,"maxExtent":0}},
       "y":{"field":"v","type":"quantitative","scale":{"domain":[3.47,7.1],"nice":false,"zero":false},"axis":{"orient":"right","labels":false,"title":null,"values":[3.6,3.8,4,4.2,4.4,4.6,4.8,5,5.2,5.4,5.6,5.8,6,6.2,6.4,6.6,6.8,7],"tickSize":{"condition":{"test":"abs(datum.value-round(datum.value))<0.01","value":-10},"value":-5},"minExtent":0,"maxExtent":0}}
      }}
    ],
    "resolve":{"axis":{"x":"independent","y":"independent"}}
   },
   {
    "width": 600, "height": 138,
    "layer": [
     {
      "encoding": {
       "x": {"field":"t","type":"quantitative","scale":{"domain":[19.912,23.89],"nice":false,"zero":false},
             "axis":{"orient":"bottom","labels":false,"title":null,"values":[20,20.1667,20.3333,20.5,20.6667,20.8333,21,21.1667,21.3333,21.5,21.6667,21.8333,22,22.1667,22.3333,22.5,22.6667,22.8333,23,23.1667,23.3333,23.5,23.6667,23.8333],"tickSize":{"condition":{"test":"abs(datum.value*2-round(datum.value*2))<0.01","value":-10},"value":-5},"minExtent":0,"maxExtent":0}},
       "y": {"field":"v","type":"quantitative","scale":{"domain":[0,3.6],"nice":false,"zero":false},
             "axis":{"orient":"left","title":"Correlated flux density (Jy)","values":[0,0.2,0.4,0.6,0.8,1,1.2,1.4,1.6,1.8,2,2.2,2.4,2.6,2.8,3,3.2,3.4],"tickSize":{"condition":{"test":"abs(datum.value-round(datum.value))<0.01","value":-10},"value":-5},"labelExpr":"abs(datum.value-round(datum.value))<0.01 ? format(datum.value,'d') : ''","labelAngle":-90,"labelAlign":"center","labelBaseline":"bottom","labelPadding":21.5,"minExtent":28,"maxExtent":28,"titlePadding":13}},
       "color": {"field":"b","type":"nominal","legend":null,"scale":{"domain":["Z","S","R","G","K","O","Ma","Mb"],"range":["black","blue","red","#00ff00","black","#ff8000","magenta","blue"]}}
      },
      "layer": [
       {"data":{"name":"fmod"},"transform":[{"filter":"datum.p === 'R'"}],"mark":{"type":"line","strokeWidth":2,"clip":true},"encoding":{"strokeDash":{"field":"m","type":"nominal","legend":null,"scale":{"domain":["Ma","Mb","Ma88","Mb88"],"range":[[10,7],[10,4,2,4],[2,4],[9,3,2,3,2,3,2,3]]}}}},
       {"data":{"name":"flux"},"transform":[{"filter":"datum.b === 'R'"}],"mark":{"type":"errorbar","thickness":1.2},"encoding":{"yError":{"field":"e"}}},
       {"data":{"name":"lmk"},"transform":[{"filter":"datum.p === 'R'"}],"mark":{"type":"errorbar","thickness":1.2},"encoding":{"yError":{"field":"e"}}},
       {"data":{"name":"flux"},"transform":[{"filter":"datum.b === 'R' && indexof(['fc','fd','fs'], datum.k) < 0"}],"mark":{"type":"point","filled":false,"size":115,"strokeWidth":1.4,"opacity":1},"encoding":{"shape":{"field":"k","type":"nominal","legend":null,"scale":{"domain":["o","s","t","d","fc","fd","fs","fo"],"range":["M0,-1A0.75,1,0,1,1,0,1A0.75,1,0,1,1,0,-1Z","M-0.8,-0.9H0.8V0.9H-0.8Z","M0,-1L0.85,0.75L-0.85,0.75Z","M0,-1L0.6,0L0,1L-0.6,0Z","M0,-1A0.45,1,0,1,1,0,1A0.45,1,0,1,1,0,-1Z","M0,-1L0.5,0L0,1L-0.5,0Z","M0,-1L0.22,-0.3L0.95,-0.3L0.36,0.12L0.59,0.81L0,0.38L-0.59,0.81L-0.36,0.12L-0.95,-0.3L-0.22,-0.3Z","M0,-1A0.75,1,0,1,1,0,1A0.75,1,0,1,1,0,-1Z"]}}}},
       {"data":{"name":"flux"},"transform":[{"filter":"datum.b === 'R' && indexof(['fc','fd','fs'], datum.k) >= 0"}],"mark":{"type":"point","filled":true,"size":115,"opacity":1},"encoding":{"shape":{"field":"k","type":"nominal","legend":null,"scale":{"domain":["o","s","t","d","fc","fd","fs","fo"],"range":["M0,-1A0.75,1,0,1,1,0,1A0.75,1,0,1,1,0,-1Z","M-0.8,-0.9H0.8V0.9H-0.8Z","M0,-1L0.85,0.75L-0.85,0.75Z","M0,-1L0.6,0L0,1L-0.6,0Z","M0,-1A0.45,1,0,1,1,0,1A0.45,1,0,1,1,0,-1Z","M0,-1L0.5,0L0,1L-0.5,0Z","M0,-1L0.22,-0.3L0.95,-0.3L0.36,0.12L0.59,0.81L0,0.38L-0.59,0.81L-0.36,0.12L-0.95,-0.3L-0.22,-0.3Z","M0,-1A0.75,1,0,1,1,0,1A0.75,1,0,1,1,0,-1Z"]}}}},
       {"data":{"name":"lmk"},"transform":[{"filter":"datum.p === 'R' && indexof(['fc','fd','fs'], datum.k) < 0"}],"mark":{"type":"point","filled":false,"size":115,"strokeWidth":1.4,"opacity":1},"encoding":{"shape":{"field":"k","type":"nominal","legend":null,"scale":{"domain":["o","s","t","d","fc","fd","fs","fo"],"range":["M0,-1A0.75,1,0,1,1,0,1A0.75,1,0,1,1,0,-1Z","M-0.8,-0.9H0.8V0.9H-0.8Z","M0,-1L0.85,0.75L-0.85,0.75Z","M0,-1L0.6,0L0,1L-0.6,0Z","M0,-1A0.45,1,0,1,1,0,1A0.45,1,0,1,1,0,-1Z","M0,-1L0.5,0L0,1L-0.5,0Z","M0,-1L0.22,-0.3L0.95,-0.3L0.36,0.12L0.59,0.81L0,0.38L-0.59,0.81L-0.36,0.12L-0.95,-0.3L-0.22,-0.3Z","M0,-1A0.75,1,0,1,1,0,1A0.75,1,0,1,1,0,-1Z"]}}}},
       {"data":{"name":"lmk"},"transform":[{"filter":"datum.p === 'R' && indexof(['fc','fd','fs'], datum.k) >= 0"}],"mark":{"type":"point","filled":true,"size":115,"opacity":1},"encoding":{"shape":{"field":"k","type":"nominal","legend":null,"scale":{"domain":["o","s","t","d","fc","fd","fs","fo"],"range":["M0,-1A0.75,1,0,1,1,0,1A0.75,1,0,1,1,0,-1Z","M-0.8,-0.9H0.8V0.9H-0.8Z","M0,-1L0.85,0.75L-0.85,0.75Z","M0,-1L0.6,0L0,1L-0.6,0Z","M0,-1A0.45,1,0,1,1,0,1A0.45,1,0,1,1,0,-1Z","M0,-1L0.5,0L0,1L-0.5,0Z","M0,-1L0.22,-0.3L0.95,-0.3L0.36,0.12L0.59,0.81L0,0.38L-0.59,0.81L-0.36,0.12L-0.95,-0.3L-0.22,-0.3Z","M0,-1A0.75,1,0,1,1,0,1A0.75,1,0,1,1,0,-1Z"]}}}},
       {"data":{"name":"ltx"},"transform":[{"filter":"datum.p === 'R'"}],"mark":{"type":"text","align":"left","baseline":"middle","fontSize":19},"encoding":{"text":{"field":"txt"}}}
      ]
     },
     {"data":{"name":"flux"},"transform":[{"filter":"datum.b === 'R'"}],"mark":{"type":"point","opacity":0},
      "encoding":{
       "x":{"field":"t","type":"quantitative","scale":{"domain":[19.912,23.89],"nice":false,"zero":false},"axis":{"orient":"top","labels":false,"title":null,"values":[20,20.1667,20.3333,20.5,20.6667,20.8333,21,21.1667,21.3333,21.5,21.6667,21.8333,22,22.1667,22.3333,22.5,22.6667,22.8333,23,23.1667,23.3333,23.5,23.6667,23.8333],"tickSize":{"condition":{"test":"abs(datum.value*2-round(datum.value*2))<0.01","value":-10},"value":-5},"minExtent":0,"maxExtent":0}},
       "y":{"field":"v","type":"quantitative","scale":{"domain":[0,3.6],"nice":false,"zero":false},"axis":{"orient":"right","labels":false,"title":null,"values":[0,0.2,0.4,0.6,0.8,1,1.2,1.4,1.6,1.8,2,2.2,2.4,2.6,2.8,3,3.2,3.4],"tickSize":{"condition":{"test":"abs(datum.value-round(datum.value))<0.01","value":-10},"value":-5},"minExtent":0,"maxExtent":0}}
      }}
    ],
    "resolve":{"axis":{"x":"independent","y":"independent"}}
   },
   {
    "width": 600, "height": 138,
    "layer": [
     {
      "encoding": {
       "x": {"field":"t","type":"quantitative","scale":{"domain":[19.912,23.89],"nice":false,"zero":false},
             "axis":{"orient":"bottom","title":"GST","values":[20,20.1667,20.3333,20.5,20.6667,20.8333,21,21.1667,21.3333,21.5,21.6667,21.8333,22,22.1667,22.3333,22.5,22.6667,22.8333,23,23.1667,23.3333,23.5,23.6667,23.8333],"tickSize":{"condition":{"test":"abs(datum.value*2-round(datum.value*2))<0.01","value":-10},"value":-5},"labelExpr":"abs(datum.value*2-round(datum.value*2))<0.01 ? (abs(datum.value-round(datum.value))<0.01 ? format(round(datum.value),'d')+'ʰ00ᵐ' : '30ᵐ') : ''","labelAngle":0,"labelPadding":24.3,"minExtent":32,"maxExtent":32,"titlePadding":17}},
       "y": {"field":"v","type":"quantitative","scale":{"domain":[-0.65,2.95],"nice":false,"zero":false},
             "axis":{"orient":"left","title":null,"values":[-0.6,-0.4,-0.2,0,0.2,0.4,0.6,0.8,1,1.2,1.4,1.6,1.8,2,2.2,2.4,2.6,2.8],"tickSize":{"condition":{"test":"abs(datum.value-round(datum.value))<0.01","value":-10},"value":-5},"labelExpr":"abs(datum.value-round(datum.value))<0.01 ? format(datum.value,'d') : ''","labelAngle":-90,"labelAlign":"center","labelBaseline":"bottom","labelPadding":21.5,"minExtent":28,"maxExtent":28,"titlePadding":13}},
       "color": {"field":"b","type":"nominal","legend":null,"scale":{"domain":["Z","S","R","G","K","O","Ma","Mb"],"range":["black","blue","red","#00ff00","black","#ff8000","magenta","blue"]}}
      },
      "layer": [
       {"data":{"name":"fmod"},"transform":[{"filter":"datum.p === 'G'"}],"mark":{"type":"line","strokeWidth":2,"clip":true},"encoding":{"strokeDash":{"field":"m","type":"nominal","legend":null,"scale":{"domain":["Ma","Mb","Ma88","Mb88"],"range":[[10,7],[10,4,2,4],[2,4],[9,3,2,3,2,3,2,3]]}}}},
       {"data":{"name":"flux"},"transform":[{"filter":"datum.b === 'G'"}],"mark":{"type":"errorbar","thickness":1.2},"encoding":{"yError":{"field":"e"}}},
       {"data":{"name":"lmk"},"transform":[{"filter":"datum.p === 'G'"}],"mark":{"type":"errorbar","thickness":1.2},"encoding":{"yError":{"field":"e"}}},
       {"data":{"name":"flux"},"transform":[{"filter":"datum.b === 'G'"}],"mark":{"type":"point","filled":false,"size":115,"strokeWidth":1.4,"opacity":1},"encoding":{"shape":{"field":"k","type":"nominal","legend":null,"scale":{"domain":["o","s","t","d","fc","fd","fs","fo"],"range":["M0,-1A0.75,1,0,1,1,0,1A0.75,1,0,1,1,0,-1Z","M-0.8,-0.9H0.8V0.9H-0.8Z","M0,-1L0.85,0.75L-0.85,0.75Z","M0,-1L0.6,0L0,1L-0.6,0Z","M0,-1A0.45,1,0,1,1,0,1A0.45,1,0,1,1,0,-1Z","M0,-1L0.5,0L0,1L-0.5,0Z","M0,-1L0.22,-0.3L0.95,-0.3L0.36,0.12L0.59,0.81L0,0.38L-0.59,0.81L-0.36,0.12L-0.95,-0.3L-0.22,-0.3Z","M0,-1A0.75,1,0,1,1,0,1A0.75,1,0,1,1,0,-1Z"]}}}},
       {"data":{"name":"lmk"},"transform":[{"filter":"datum.p === 'G'"}],"mark":{"type":"point","filled":false,"size":115,"strokeWidth":1.4,"opacity":1},"encoding":{"shape":{"field":"k","type":"nominal","legend":null,"scale":{"domain":["o","s","t","d","fc","fd","fs","fo"],"range":["M0,-1A0.75,1,0,1,1,0,1A0.75,1,0,1,1,0,-1Z","M-0.8,-0.9H0.8V0.9H-0.8Z","M0,-1L0.85,0.75L-0.85,0.75Z","M0,-1L0.6,0L0,1L-0.6,0Z","M0,-1A0.45,1,0,1,1,0,1A0.45,1,0,1,1,0,-1Z","M0,-1L0.5,0L0,1L-0.5,0Z","M0,-1L0.22,-0.3L0.95,-0.3L0.36,0.12L0.59,0.81L0,0.38L-0.59,0.81L-0.36,0.12L-0.95,-0.3L-0.22,-0.3Z","M0,-1A0.75,1,0,1,1,0,1A0.75,1,0,1,1,0,-1Z"]}}}},
       {"data":{"name":"ltx"},"transform":[{"filter":"datum.p === 'G'"}],"mark":{"type":"text","align":"left","baseline":"middle","fontSize":19},"encoding":{"text":{"field":"txt"}}}
      ]
     },
     {"data":{"name":"flux"},"transform":[{"filter":"datum.b === 'G'"}],"mark":{"type":"point","opacity":0},
      "encoding":{
       "x":{"field":"t","type":"quantitative","scale":{"domain":[19.912,23.89],"nice":false,"zero":false},"axis":{"orient":"top","labels":false,"title":null,"values":[20,20.1667,20.3333,20.5,20.6667,20.8333,21,21.1667,21.3333,21.5,21.6667,21.8333,22,22.1667,22.3333,22.5,22.6667,22.8333,23,23.1667,23.3333,23.5,23.6667,23.8333],"tickSize":{"condition":{"test":"abs(datum.value*2-round(datum.value*2))<0.01","value":-10},"value":-5},"minExtent":0,"maxExtent":0}},
       "y":{"field":"v","type":"quantitative","scale":{"domain":[-0.65,2.95],"nice":false,"zero":false},"axis":{"orient":"right","labels":false,"title":null,"values":[-0.6,-0.4,-0.2,0,0.2,0.4,0.6,0.8,1,1.2,1.4,1.6,1.8,2,2.2,2.4,2.6,2.8],"tickSize":{"condition":{"test":"abs(datum.value-round(datum.value))<0.01","value":-10},"value":-5},"minExtent":0,"maxExtent":0}}
      }}
    ],
    "resolve":{"axis":{"x":"independent","y":"independent"}}
   }
  ], "spacing": 0, "bounds": "flush"}
 ], "spacing": 20},
 {"hconcat": [
  {
   "width": 598, "height": 415,
   "layer": [
    {
     "encoding": {
      "x": {"field":"t","type":"quantitative","scale":{"domain":[20.0,23.81],"nice":false,"zero":false},
            "axis":{"orient":"bottom","title":"GST","values":[20,20.1667,20.3333,20.5,20.6667,20.8333,21,21.1667,21.3333,21.5,21.6667,21.8333,22,22.1667,22.3333,22.5,22.6667,22.8333,23,23.1667,23.3333,23.5,23.6667],"tickSize":{"condition":{"test":"abs(datum.value*2-round(datum.value*2))<0.01","value":-10},"value":-5},"labelExpr":"abs(datum.value-20.5)<0.01 ? '20ʰ30ᵐ' : (datum.value < 20.25 ? '' : (abs(datum.value*2-round(datum.value*2))<0.01 ? (abs(datum.value-round(datum.value))<0.01 ? format(round(datum.value),'d')+'ʰ00ᵐ' : '30ᵐ') : ''))","labelAngle":0,"labelPadding":24.3,"minExtent":32,"maxExtent":32,"titlePadding":17}},
      "y": {"field":"v","type":"quantitative","scale":{"domain":[-180,180],"nice":false,"zero":false},
            "axis":{"orient":"left","title":"Closure Phase (degree)","values":[-180,-160,-140,-120,-100,-80,-60,-40,-20,0,20,40,60,80,100,120,140,160,180],"format":"d","tickSize":{"condition":{"test":"datum.value % 100 === 0","value":-10},"value":-5},"labelExpr":"datum.value % 100 === 0 ? datum.label : ''","labelAngle":-90,"labelAlign":"center","labelBaseline":"bottom","labelPadding":21.5,"minExtent":28,"maxExtent":28,"titlePadding":13}},
      "color": {"field":"b","type":"nominal","legend":null,"scale":{"domain":["Z","S","R","G","K","O","Ma","Mb"],"range":["black","blue","red","#00ff00","black","#ff8000","magenta","blue"]}}
     },
     "layer": [
      {"data":{"name":"cpm"},"transform":[{"filter":"datum.p === 'BL'"}],"mark":{"type":"line","strokeWidth":1.5,"clip":true},"encoding":{"strokeDash":{"field":"m","type":"nominal","legend":null,"scale":{"domain":["Ma","Mb","Ma88","Mb88"],"range":[[9,6],[9,4,2,4],[2,4],[9,3,2,3,2,3,2,3]]}}}},
      {"data":{"name":"lln"},"transform":[{"filter":"datum.p === 'BL'"}],"mark":{"type":"line","strokeWidth":1.5},"encoding":{"strokeDash":{"field":"m","type":"nominal","legend":null,"scale":{"domain":["Ma","Mb","Ma88","Mb88"],"range":[[9,6],[9,4,2,4],[2,4],[9,3,2,3,2,3,2,3]]}}}},
      {"data":{"name":"cpl"},"mark":{"type":"rule","color":"black","strokeWidth":1.5},"encoding":{"y":{"datum":0},"x":null,"color":null}},
      {"data":{"name":"cpl"},"mark":{"type":"errorbar","thickness":1.2},"encoding":{"yError":{"field":"e"}}},
      {"data":{"name":"lmk"},"transform":[{"filter":"datum.p === 'BL'"}],"mark":{"type":"errorbar","thickness":1.2},"encoding":{"yError":{"field":"e"}}},
      {"data":{"name":"cpl"},"mark":{"type":"point","filled":false,"size":110,"strokeWidth":1.3,"opacity":1},"encoding":{"shape":{"field":"k","type":"nominal","legend":null,"scale":{"domain":["o","s","t","d","fc","fd","fs","fo"],"range":["M0,-1A0.75,1,0,1,1,0,1A0.75,1,0,1,1,0,-1Z","M-0.8,-0.9H0.8V0.9H-0.8Z","M0,-1L0.85,0.75L-0.85,0.75Z","M0,-1L0.6,0L0,1L-0.6,0Z","M0,-1A0.45,1,0,1,1,0,1A0.45,1,0,1,1,0,-1Z","M0,-1L0.5,0L0,1L-0.5,0Z","M0,-1L0.22,-0.3L0.95,-0.3L0.36,0.12L0.59,0.81L0,0.38L-0.59,0.81L-0.36,0.12L-0.95,-0.3L-0.22,-0.3Z","M0,-1A0.75,1,0,1,1,0,1A0.75,1,0,1,1,0,-1Z"]}}}},
      {"data":{"name":"lmk"},"transform":[{"filter":"datum.p === 'BL'"}],"mark":{"type":"point","filled":false,"size":110,"strokeWidth":1.3,"opacity":1},"encoding":{"shape":{"field":"k","type":"nominal","legend":null,"scale":{"domain":["o","s","t","d","fc","fd","fs","fo"],"range":["M0,-1A0.75,1,0,1,1,0,1A0.75,1,0,1,1,0,-1Z","M-0.8,-0.9H0.8V0.9H-0.8Z","M0,-1L0.85,0.75L-0.85,0.75Z","M0,-1L0.6,0L0,1L-0.6,0Z","M0,-1A0.45,1,0,1,1,0,1A0.45,1,0,1,1,0,-1Z","M0,-1L0.5,0L0,1L-0.5,0Z","M0,-1L0.22,-0.3L0.95,-0.3L0.36,0.12L0.59,0.81L0,0.38L-0.59,0.81L-0.36,0.12L-0.95,-0.3L-0.22,-0.3Z","M0,-1A0.75,1,0,1,1,0,1A0.75,1,0,1,1,0,-1Z"]}}}},
      {"data":{"name":"ltx"},"transform":[{"filter":"datum.p === 'BL'"}],"mark":{"type":"text","align":"left","baseline":"middle","fontSize":19},"encoding":{"text":{"field":"txt"}}},
      {"data":{"name":"lsub"},"transform":[{"filter":"datum.p === 'BL'"}],"mark":{"type":"text","align":"left","baseline":"middle","fontSize":15,"dx":94,"dy":8},"encoding":{"text":{"field":"txt"}}}
     ]
    },
    {"data":{"name":"cpl"},"mark":{"type":"point","opacity":0},
     "encoding":{
      "x":{"field":"t","type":"quantitative","scale":{"domain":[20.0,23.81],"nice":false,"zero":false},"axis":{"orient":"top","labels":false,"title":null,"values":[20,20.1667,20.3333,20.5,20.6667,20.8333,21,21.1667,21.3333,21.5,21.6667,21.8333,22,22.1667,22.3333,22.5,22.6667,22.8333,23,23.1667,23.3333,23.5,23.6667],"tickSize":{"condition":{"test":"abs(datum.value*2-round(datum.value*2))<0.01","value":-10},"value":-5},"minExtent":0,"maxExtent":0}},
      "y":{"field":"v","type":"quantitative","scale":{"domain":[-180,180],"nice":false,"zero":false},"axis":{"orient":"right","labels":false,"title":null,"values":[-180,-160,-140,-120,-100,-80,-60,-40,-20,0,20,40,60,80,100,120,140,160,180],"tickSize":{"condition":{"test":"datum.value % 100 === 0","value":-10},"value":-5},"minExtent":0,"maxExtent":0}}
     }}
   ],
   "resolve":{"axis":{"x":"independent","y":"independent"}}
  },
  {
   "width": 600, "height": 415,
   "layer": [
    {
     "encoding": {
      "x": {"field":"t","type":"quantitative","scale":{"domain":[20.0,23.81],"nice":false,"zero":false},
            "axis":{"orient":"bottom","title":"GST","values":[20,20.1667,20.3333,20.5,20.6667,20.8333,21,21.1667,21.3333,21.5,21.6667,21.8333,22,22.1667,22.3333,22.5,22.6667,22.8333,23,23.1667,23.3333,23.5,23.6667],"tickSize":{"condition":{"test":"abs(datum.value*2-round(datum.value*2))<0.01","value":-10},"value":-5},"labelExpr":"abs(datum.value-20.5)<0.01 ? '20ʰ30ᵐ' : (datum.value < 20.25 ? '' : (abs(datum.value*2-round(datum.value*2))<0.01 ? (abs(datum.value-round(datum.value))<0.01 ? format(round(datum.value),'d')+'ʰ00ᵐ' : '30ᵐ') : ''))","labelAngle":0,"labelPadding":24.3,"minExtent":32,"maxExtent":32,"titlePadding":17}},
      "y": {"field":"v","type":"quantitative","scale":{"domain":[-180,180],"nice":false,"zero":false},
            "axis":{"orient":"left","title":"Closure Phase (degree)","values":[-180,-160,-140,-120,-100,-80,-60,-40,-20,0,20,40,60,80,100,120,140,160,180],"format":"d","tickSize":{"condition":{"test":"datum.value % 100 === 0","value":-10},"value":-5},"labelExpr":"datum.value % 100 === 0 ? datum.label : ''","labelAngle":-90,"labelAlign":"center","labelBaseline":"bottom","labelPadding":21.5,"minExtent":28,"maxExtent":28,"titlePadding":13}},
      "color": {"field":"b","type":"nominal","legend":null,"scale":{"domain":["Z","S","R","G","K","O","Ma","Mb"],"range":["black","blue","red","#00ff00","black","#ff8000","magenta","blue"]}}
     },
     "layer": [
      {"data":{"name":"cpl"},"mark":{"type":"rule","color":"black","strokeWidth":1.5},"encoding":{"y":{"datum":0},"x":null,"color":null}},
      {"data":{"name":"cpm"},"transform":[{"filter":"datum.p === 'BR'"}],"mark":{"type":"line","strokeWidth":1.5,"clip":true},"encoding":{"strokeDash":{"field":"m","type":"nominal","legend":null,"scale":{"domain":["Ma","Mb","Ma88","Mb88"],"range":[[9,6],[9,4,2,4],[2,4],[9,3,2,3,2,3,2,3]]}}}},
      {"data":{"name":"lln"},"transform":[{"filter":"datum.p === 'BR'"}],"mark":{"type":"line","strokeWidth":1.5},"encoding":{"strokeDash":{"field":"m","type":"nominal","legend":null,"scale":{"domain":["Ma","Mb","Ma88","Mb88"],"range":[[9,6],[9,4,2,4],[2,4],[9,3,2,3,2,3,2,3]]}}}},
      {"data":{"name":"cpr"},"mark":{"type":"errorbar","thickness":1.2},"encoding":{"yError":{"field":"e"}}},
      {"data":{"name":"lmk"},"transform":[{"filter":"datum.p === 'BR'"}],"mark":{"type":"errorbar","thickness":1.2},"encoding":{"yError":{"field":"e"}}},
      {"data":{"name":"cpr"},"transform":[{"filter":"datum.k === 't'"}],"mark":{"type":"point","filled":false,"size":110,"strokeWidth":1.2,"opacity":1},"encoding":{"shape":{"field":"k","type":"nominal","legend":null,"scale":{"domain":["o","s","t","d","fc","fd","fs","fo"],"range":["M0,-1A0.75,1,0,1,1,0,1A0.75,1,0,1,1,0,-1Z","M-0.8,-0.9H0.8V0.9H-0.8Z","M0,-1L0.85,0.75L-0.85,0.75Z","M0,-1L0.6,0L0,1L-0.6,0Z","M0,-1A0.45,1,0,1,1,0,1A0.45,1,0,1,1,0,-1Z","M0,-1L0.5,0L0,1L-0.5,0Z","M0,-1L0.22,-0.3L0.95,-0.3L0.36,0.12L0.59,0.81L0,0.38L-0.59,0.81L-0.36,0.12L-0.95,-0.3L-0.22,-0.3Z","M0,-1A0.75,1,0,1,1,0,1A0.75,1,0,1,1,0,-1Z"]}}}},
      {"data":{"name":"cpr"},"transform":[{"filter":"datum.k === 'fo'"}],"mark":{"type":"point","filled":true,"size":140,"opacity":1},"encoding":{"shape":{"field":"k","type":"nominal","legend":null,"scale":{"domain":["o","s","t","d","fc","fd","fs","fo"],"range":["M0,-1A0.75,1,0,1,1,0,1A0.75,1,0,1,1,0,-1Z","M-0.8,-0.9H0.8V0.9H-0.8Z","M0,-1L0.85,0.75L-0.85,0.75Z","M0,-1L0.6,0L0,1L-0.6,0Z","M0,-1A0.45,1,0,1,1,0,1A0.45,1,0,1,1,0,-1Z","M0,-1L0.5,0L0,1L-0.5,0Z","M0,-1L0.22,-0.3L0.95,-0.3L0.36,0.12L0.59,0.81L0,0.38L-0.59,0.81L-0.36,0.12L-0.95,-0.3L-0.22,-0.3Z","M0,-1A0.75,1,0,1,1,0,1A0.75,1,0,1,1,0,-1Z"]}}}},
      {"data":{"name":"lmk"},"transform":[{"filter":"datum.p === 'BR' && datum.k === 't'"}],"mark":{"type":"point","filled":false,"size":110,"strokeWidth":1.2,"opacity":1},"encoding":{"shape":{"field":"k","type":"nominal","legend":null,"scale":{"domain":["o","s","t","d","fc","fd","fs","fo"],"range":["M0,-1A0.75,1,0,1,1,0,1A0.75,1,0,1,1,0,-1Z","M-0.8,-0.9H0.8V0.9H-0.8Z","M0,-1L0.85,0.75L-0.85,0.75Z","M0,-1L0.6,0L0,1L-0.6,0Z","M0,-1A0.45,1,0,1,1,0,1A0.45,1,0,1,1,0,-1Z","M0,-1L0.5,0L0,1L-0.5,0Z","M0,-1L0.22,-0.3L0.95,-0.3L0.36,0.12L0.59,0.81L0,0.38L-0.59,0.81L-0.36,0.12L-0.95,-0.3L-0.22,-0.3Z","M0,-1A0.75,1,0,1,1,0,1A0.75,1,0,1,1,0,-1Z"]}}}},
      {"data":{"name":"lmk"},"transform":[{"filter":"datum.p === 'BR' && datum.k === 'fo'"}],"mark":{"type":"point","filled":true,"size":140,"opacity":1},"encoding":{"shape":{"field":"k","type":"nominal","legend":null,"scale":{"domain":["o","s","t","d","fc","fd","fs","fo"],"range":["M0,-1A0.75,1,0,1,1,0,1A0.75,1,0,1,1,0,-1Z","M-0.8,-0.9H0.8V0.9H-0.8Z","M0,-1L0.85,0.75L-0.85,0.75Z","M0,-1L0.6,0L0,1L-0.6,0Z","M0,-1A0.45,1,0,1,1,0,1A0.45,1,0,1,1,0,-1Z","M0,-1L0.5,0L0,1L-0.5,0Z","M0,-1L0.22,-0.3L0.95,-0.3L0.36,0.12L0.59,0.81L0,0.38L-0.59,0.81L-0.36,0.12L-0.95,-0.3L-0.22,-0.3Z","M0,-1A0.75,1,0,1,1,0,1A0.75,1,0,1,1,0,-1Z"]}}}},
      {"data":{"name":"ltx"},"transform":[{"filter":"datum.p === 'BR'"}],"mark":{"type":"text","align":"left","baseline":"middle","fontSize":19},"encoding":{"text":{"field":"txt"}}},
      {"data":{"name":"lsub"},"transform":[{"filter":"datum.p === 'BR'"}],"mark":{"type":"text","align":"left","baseline":"middle","fontSize":15,"dx":94,"dy":8},"encoding":{"text":{"field":"txt"}}}
     ]
    },
    {"data":{"name":"cpr"},"mark":{"type":"point","opacity":0},
     "encoding":{
      "x":{"field":"t","type":"quantitative","scale":{"domain":[20.0,23.81],"nice":false,"zero":false},"axis":{"orient":"top","labels":false,"title":null,"values":[20,20.1667,20.3333,20.5,20.6667,20.8333,21,21.1667,21.3333,21.5,21.6667,21.8333,22,22.1667,22.3333,22.5,22.6667,22.8333,23,23.1667,23.3333,23.5,23.6667],"tickSize":{"condition":{"test":"abs(datum.value*2-round(datum.value*2))<0.01","value":-10},"value":-5},"minExtent":0,"maxExtent":0}},
      "y":{"field":"v","type":"quantitative","scale":{"domain":[-180,180],"nice":false,"zero":false},"axis":{"orient":"right","labels":false,"title":null,"values":[-180,-160,-140,-120,-100,-80,-60,-40,-20,0,20,40,60,80,100,120,140,160,180],"tickSize":{"condition":{"test":"datum.value % 100 === 0","value":-10},"value":-5},"minExtent":0,"maxExtent":0}}
     }}
   ],
   "resolve":{"axis":{"x":"independent","y":"independent"}}
  }
 ], "spacing": 20}
],
"spacing": 12
}
